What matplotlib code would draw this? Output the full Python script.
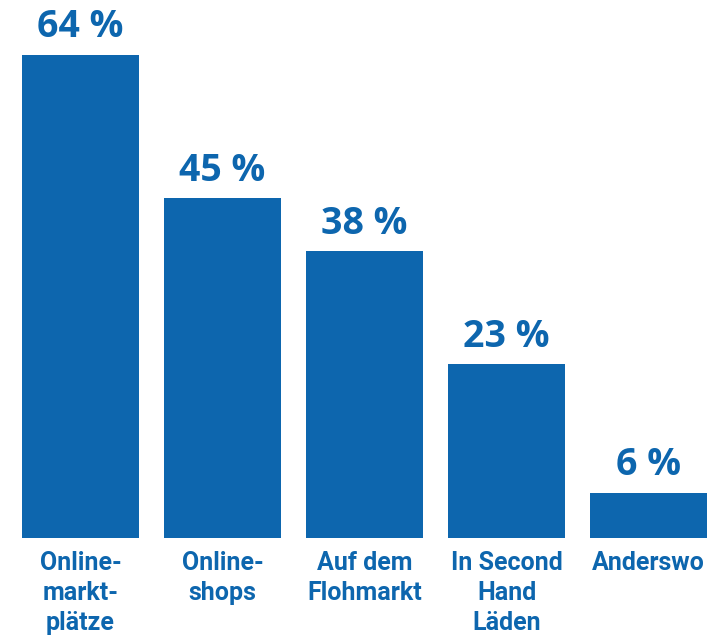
import matplotlib
matplotlib.use("Agg")
import matplotlib.pyplot as plt

# Wo gebrauchte Artikel gekauft werden (Anteil in %)
categories = ["Online-\nmarkt-\nplätze", "Online-\nshops", "Auf dem\nFlohmarkt",
              "In Second\nHand\nLäden", "Anderswo"]
values = [64, 45, 38, 23, 6]

BLUE = "#0d66ae"

fig = plt.figure(figsize=(7.17, 6.39), dpi=100)
ax = fig.add_axes([0, 0.158, 1, 0.842])

x = list(range(len(values)))
bars = ax.bar(x, values, width=0.824, color=BLUE)

for xi, v in zip(x, values):
    ax.annotate(f"{v} %", (xi, v), xytext=(0, 6), textcoords="offset points",
                ha="center", va="bottom", fontsize=27, fontweight="bold",
                color=BLUE, family="Open Sans")

for xi, lab in zip(x, categories):
    ax.annotate(lab, (xi, 0), xytext=(0, -9), textcoords="offset points",
                ha="center", va="top", fontsize=18, fontweight="bold",
                color=BLUE, family="Roboto", linespacing=1.33)

ax.set_xlim(-0.567, 4.482)
ax.set_ylim(0, 71.26)
ax.axis("off")

fig.savefig("out.png", dpi=100)
